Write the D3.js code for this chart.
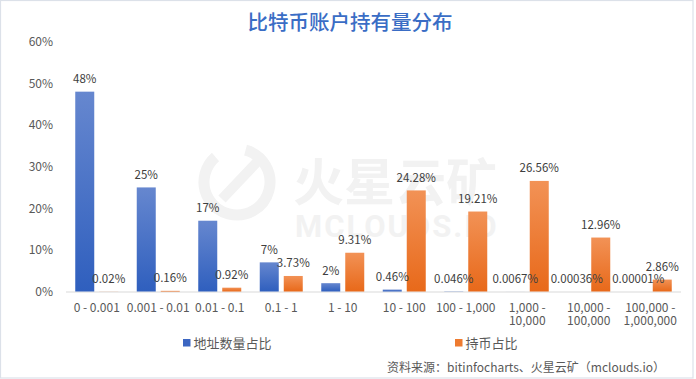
<!DOCTYPE html>
<html><head><meta charset="utf-8">
<script src="https://cdn.jsdelivr.net/npm/d3@7"></script>
<style>
html,body{margin:0;padding:0;background:#fff;}
svg{display:block;font-family:"Noto Sans CJK SC","Noto Sans",sans-serif;}
</style></head>
<body><svg id="c" width="696" height="379"></svg>
<script>
const title = "比特币账户持有量分布";
const categories = [["0 - 0.001"],["0.001 - 0.01"],["0.01 - 0.1"],["0.1 - 1"],["1 - 10"],["10 - 100"],["100 - 1,000"],["1,000 -","10,000"],["10,000 -","100,000"],["100,000 -","1,000,000"]];
const seriesNames = ["地址数量占比","持币占比"];
const addressShare = [48, 25, 17, 7, 2, 0.46, 0.046, 0.0067, 0.00036, 0.00001];
const addressLabels = ["48%","25%","17%","7%","2%","0.46%","0.046%","0.0067%","0.00036%","0.00001%"];
const coinShare = [0.02, 0.16, 0.92, 3.73, 9.31, 24.28, 19.21, 26.56, 12.96, 2.86];
const coinLabels = ["0.02%","0.16%","0.92%","3.73%","9.31%","24.28%","19.21%","26.56%","12.96%","2.86%"];
const yTicks = [0,10,20,30,40,50,60];
const source = "资料来源：bitinfocharts、火星云矿（mclouds.io）";

const svg = d3.select("#c");
const defs = svg.append("defs");
function grad(id, c1, c2){
  const g = defs.append("linearGradient").attr("id",id).attr("x1",0).attr("y1",0).attr("x2",0).attr("y2",1);
  g.append("stop").attr("offset","0%").attr("stop-color",c1);
  g.append("stop").attr("offset","100%").attr("stop-color",c2);
}
grad("gBlue","#6687cf","#2f5fbe");
grad("gOrange","#f29256","#e8691a");

// frame
svg.append("rect").attr("x",0.5).attr("y",0.5).attr("width",692.5).attr("height",377.5)
  .attr("fill","#fff").attr("stroke","#dce1e9").attr("stroke-width",1.2);

// watermark
const wm = svg.append("g").attr("fill","#f2f2f2").attr("stroke","#f2f2f2");
wm.append("circle").attr("cx",237).attr("cy",182).attr("r",33).attr("fill","none").attr("stroke-width",11)
  .attr("stroke-dasharray","175 40").attr("transform","rotate(-75 237 182)");
wm.append("line").attr("x1",222).attr("y1",199).attr("x2",258).attr("y2",161).attr("stroke-width",10);
wm.append("text").attr("x",293).attr("y",201).attr("font-size",51).attr("font-weight",700).attr("stroke","none").text("火星云矿");
wm.append("text").attr("x",295).attr("y",237).attr("font-size",31).attr("font-weight",700).attr("stroke","none")
  .attr("font-family","Roboto, 'DejaVu Sans', sans-serif").attr("letter-spacing",2).text("MCLOUDS.IO");

const pL = 66, pR = 681, pT = 41.7, pB = 291.5;
const x = d3.scaleBand().domain(d3.range(categories.length)).range([pL,pR]).paddingInner(0).paddingOuter(0);
const y = d3.scaleLinear().domain([0,60]).range([pB, pT]);
const barW = 19, gap = 5;

// title
svg.append("text").attr("x",350).attr("y",30).attr("text-anchor","middle").attr("font-size",20.5)
  .attr("font-weight",500).attr("fill","#3a6dc5").text(title);

// y axis labels
const yAxis = d3.axisLeft(y).tickValues(yTicks).tickFormat(d=>d+"%").tickSize(0).tickPadding(13);
const ya = svg.append("g").attr("transform",`translate(${pL},0)`).call(yAxis);
ya.select(".domain").remove();
ya.selectAll("text").attr("font-size",12).attr("fill","#595959").attr("font-family","'Noto Sans CJK SC',sans-serif");

// x axis line
svg.append("line").attr("x1",pL).attr("x2",pR).attr("y1",pB+0.5).attr("y2",pB+0.5).attr("stroke","#d9d9d9").attr("stroke-width",1);

// bars
const bx = (i, s) => x(i) + x.bandwidth()/2 + (s===0 ? -(gap/2+barW) : gap/2);
svg.append("g").selectAll("rect").data(addressShare).join("rect")
  .attr("x",(d,i)=>bx(i,0)).attr("width",barW)
  .attr("y",d=>y(d)).attr("height",d=>pB - y(d))
  .attr("fill","url(#gBlue)");
svg.append("g").selectAll("rect").data(coinShare).join("rect")
  .attr("x",(d,i)=>bx(i,1)).attr("width",barW)
  .attr("y",d=>y(d)).attr("height",d=>pB - y(d))
  .attr("fill","url(#gOrange)");

// data labels
svg.append("g").selectAll("text").data(addressShare).join("text")
  .attr("x",(d,i)=>bx(i,0)+barW/2).attr("y",d=>y(d)-8.5).attr("text-anchor","middle")
  .attr("font-size",11.5).attr("fill","#404040").text((d,i)=>addressLabels[i]);
svg.append("g").selectAll("text").data(coinShare).join("text")
  .attr("x",(d,i)=>bx(i,1)+barW/2).attr("y",d=>y(d)-8.5).attr("text-anchor","middle")
  .attr("font-size",11.5).attr("fill","#404040").text((d,i)=>coinLabels[i]);

// x labels
const xl = svg.append("g").selectAll("text").data(categories).join("text")
  .attr("x",(d,i)=>x(i)+x.bandwidth()/2).attr("y",311.5).attr("text-anchor","middle")
  .attr("font-size",12).attr("fill","#595959");
xl.selectAll("tspan").data(d=>d).join("tspan")
  .attr("x",function(){return this.parentNode.getAttribute("x");})
  .attr("dy",(d,j)=>j===0?0:13.5).text(d=>d);

// legend
const leg = [{x:183,c:"#3c66c2",t:seriesNames[0]},{x:455,c:"#ee7b30",t:seriesNames[1]}];
const lg = svg.append("g").selectAll("g").data(leg).join("g");
lg.append("rect").attr("x",d=>d.x).attr("y",339).attr("width",7.5).attr("height",7.5).attr("fill",d=>d.c);
lg.append("text").attr("x",d=>d.x+10.5).attr("y",347.5).attr("font-size",13).attr("fill","#595959").text(d=>d.t);

// source
svg.append("text").attr("x",665).attr("y",372).attr("text-anchor","end").attr("font-size",12).attr("fill","#595959").text(source);
</script></body></html>
